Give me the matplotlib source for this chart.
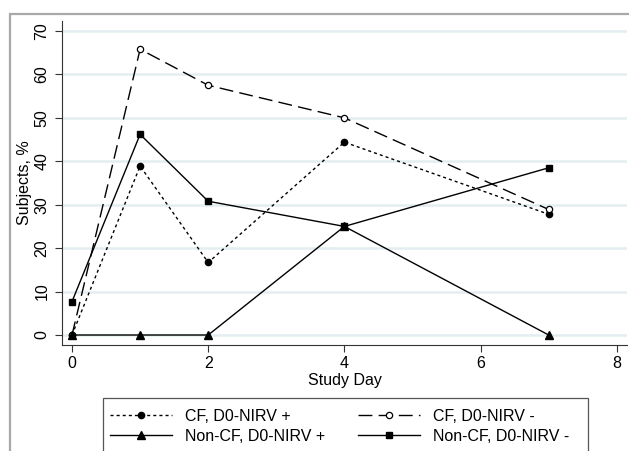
import matplotlib
matplotlib.use('Agg')
import matplotlib.pyplot as plt
from matplotlib.patches import Rectangle

plt.rcParams['font.family'] = ['Liberation Sans', 'DejaVu Sans']

# study days and percent of subjects per group
days = [0, 1, 2, 4, 7]
cf_pos = [0, 38.9, 16.7, 44.4, 27.8]
cf_neg = [0, 65.8, 57.5, 50.0, 28.9]
noncf_pos = [0, 0, 0, 25.0, 0]
noncf_neg = [7.7, 46.2, 30.8, 25.0, 38.5]

labels = ['CF, D0-NIRV +', 'CF, D0-NIRV -', 'Non-CF, D0-NIRV +', 'Non-CF, D0-NIRV -']
xticks = [0, 2, 4, 6, 8]
yticks = [0, 10, 20, 30, 40, 50, 60, 70]

W, H = 629, 451
fs = 11.5
fig = plt.figure(figsize=(W / 100, H / 100), dpi=100)
ax = fig.add_axes([62 / W, 1 - 345 / H, (627 - 62) / W, (345 - 21) / H])

grid_c = '#e4edf0'
for y in yticks:
    ax.axhline(y, color=grid_c, lw=1.8, zorder=0)

h1, = ax.plot(days, cf_pos, color='black', lw=1, ls=(0, (2.2, 2.2)), marker='o',
              ms=4.5, label=labels[0])
h2, = ax.plot(days, cf_neg, color='black', lw=1, ls=(0, (10, 4.5)), marker='o',
              ms=4.5, mfc='white', mew=0.9, label=labels[1])
h3, = ax.plot(days, noncf_pos, color='black', lw=1, marker='^', ms=5.5, label=labels[2])
h4, = ax.plot(days, noncf_neg, color='black', lw=1, marker='s', ms=5, label=labels[3])

ax.set_xlim(-0.147, 8.15)
ax.set_ylim(-2.3, 72.3)
ax.set_xticks(xticks)
ax.set_yticks(yticks)
ax.tick_params(axis='both', direction='out', length=5, width=0.8, colors='#333333',
               labelcolor='black', labelsize=fs)
ax.tick_params(axis='x', pad=3)
ax.tick_params(axis='y', pad=4)
for lab in ax.get_yticklabels():
    lab.set_rotation(90)
    lab.set_va('center')
ax.spines['top'].set_visible(False)
ax.spines['right'].set_visible(False)
ax.spines['left'].set_color('#333333')
ax.spines['bottom'].set_color('#333333')
ax.set_xlabel('Study Day', fontsize=fs, labelpad=1)
ax.set_ylabel('Subjects, %', fontsize=fs, va='center')
ax.yaxis.set_label_coords(-0.067, 0.5)

# column-wise fill -> order so rows read CF+/CF-, NonCF+/NonCF-
fig.legend([h1, h3, h2, h4], [labels[0], labels[2], labels[1], labels[3]],
           ncol=2, frameon=False, fontsize=fs,
           loc='upper left', bbox_to_anchor=(102 / W, 1 - 401 / H),
           handlelength=3.9, handletextpad=0.8, columnspacing=2.05,
           labelspacing=0.3, borderpad=0, numpoints=1)

# legend frame (runs off the bottom of the picture)
fig.patches.append(Rectangle((103 / W, -0.05), (588 - 103) / W, 1 - 398 / H + 0.05,
                             transform=fig.transFigure, fill=False,
                             ec='#555555', lw=0.9))
# outer plot-region border
fig.patches.append(Rectangle((10 / W, -0.05), 1.1, 1 - 14 / H + 0.05,
                             transform=fig.transFigure, fill=False,
                             ec='#a8a8a8', lw=1.6))

fig.savefig('out.png', dpi=100, facecolor='white')
